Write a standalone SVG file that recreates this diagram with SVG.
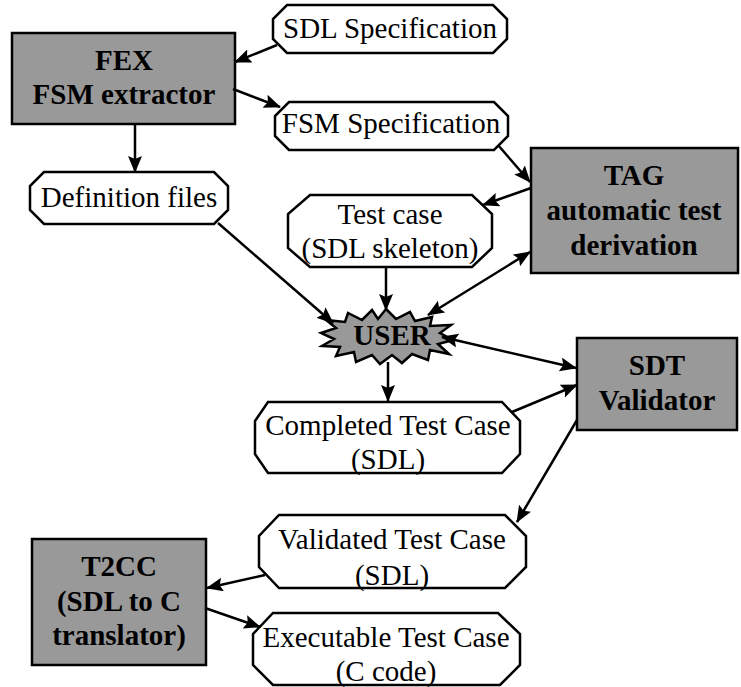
<svg xmlns="http://www.w3.org/2000/svg" width="741" height="687" viewBox="0 0 741 687">
<style>
.oct{fill:#fff;stroke:#000;stroke-width:2.5;stroke-linejoin:miter}
.box{fill:#999;stroke:#000;stroke-width:2.5}
.t{font-family:"Liberation Serif","Times New Roman",serif;font-size:29px;fill:#000;text-anchor:middle}
.b{font-weight:bold}
.c line{stroke:#000;stroke-width:2.5}
</style>
<defs>
<marker id="ah" markerUnits="userSpaceOnUse" markerWidth="18" markerHeight="16" refX="16" refY="7" orient="auto-start-reverse">
<path d="M0,0 L17,7 L0,14 L3,7 z" fill="#000"/>
</marker>
</defs>
<rect width="741" height="687" fill="#fff"/>

<g id="sdl-spec">
<polygon class="oct" points="287,5 493,5 507,19 507,39 493,53 287,53 273,39 273,19"/>
<text class="t" x="390" y="38">SDL Specification</text>
</g>
<g id="fex">
<rect class="box" x="12" y="33" width="223" height="91"/>
<text class="t b" x="124" y="70">FEX</text>
<text class="t b" x="124" y="104">FSM extractor</text>
</g>
<g id="fsm-spec">
<polygon class="oct" points="289,102 494,102 508,116 508,136 494,150 289,150 275,136 275,116"/>
<text class="t" x="391" y="133">FSM Specification</text>
</g>
<g id="def-files">
<polygon class="oct" points="44,172 214,172 228,186 228,210 214,224 44,224 30,210 30,186"/>
<text class="t" x="129" y="207">Definition files</text>
</g>
<g id="tag">
<rect class="box" x="531" y="148" width="207" height="125"/>
<text class="t b" x="634" y="185">TAG</text>
<text class="t b" x="634" y="220">automatic test</text>
<text class="t b" x="634" y="255">derivation</text>
</g>
<g id="test-case">
<polygon class="oct" points="310,195 472,195 492,214 492,248 472,267 310,267 288,248 288,214"/>
<text class="t" x="390" y="224">Test case</text>
<text class="t" x="390" y="258">(SDL skeleton)</text>
</g>
<g id="user">
<polygon fill="#999" stroke="#000" stroke-width="2.5" stroke-linejoin="miter" points="386,309 396,319 410,312 415,321 432,317 430,326 451,325 440,333 453,340 438,344 449,354 430,350 428,360 412,354 402,363 392,355 380,364 372,355 356,362 354,352 336,356 340,347 322,346 334,339 321,333 336,328 326,320 345,322 348,313 362,320 372,310 378,319"/>
<text class="t b" x="392" y="345">USER</text>
</g>
<g id="sdt">
<rect class="box" x="577" y="338" width="160" height="92"/>
<text class="t b" x="657" y="375">SDT</text>
<text class="t b" x="657" y="410">Validator</text>
</g>
<g id="completed">
<polygon class="oct" points="268,402 502,402 520,421 520,454 502,473 268,473 255,454 255,421"/>
<text class="t" x="388" y="435">Completed Test Case</text>
<text class="t" x="388" y="469">(SDL)</text>
</g>
<g id="validated">
<polygon class="oct" points="279,515 505,515 526,536 526,567 505,588 279,588 259,567 259,536"/>
<text class="t" x="392" y="549">Validated Test Case</text>
<text class="t" x="392" y="585">(SDL)</text>
</g>
<g id="t2cc">
<rect class="box" x="32" y="539" width="174" height="126"/>
<text class="t b" x="119" y="576">T2CC</text>
<text class="t b" x="119" y="611">(SDL to C</text>
<text class="t b" x="119" y="645">translator)</text>
</g>
<g id="executable">
<polygon class="oct" points="273,613 498,613 520,634 520,665 500,685 273,685 253,665 253,634"/>
<text class="t" x="386" y="647">Executable Test Case</text>
<text class="t" x="386" y="681">(C code)</text>
</g>

<g id="connectors" class="c">
<line x1="277" y1="45" x2="235" y2="62" marker-end="url(#ah)"/>
<line x1="233" y1="89" x2="280" y2="107" marker-end="url(#ah)"/>
<line x1="135" y1="124" x2="135" y2="172" marker-end="url(#ah)"/>
<line x1="498" y1="145" x2="530" y2="182" marker-end="url(#ah)"/>
<line x1="531" y1="188" x2="483" y2="205" marker-end="url(#ah)"/>
<line x1="218" y1="223" x2="333" y2="323" marker-end="url(#ah)"/>
<line x1="386" y1="267" x2="386" y2="310" marker-end="url(#ah)"/>
<line x1="428" y1="315" x2="530" y2="252" marker-start="url(#ah)" marker-end="url(#ah)"/>
<line x1="442" y1="337" x2="576" y2="368" marker-start="url(#ah)" marker-end="url(#ah)"/>
<line x1="388" y1="362" x2="388" y2="401" marker-end="url(#ah)"/>
<line x1="512" y1="412" x2="577" y2="385" marker-end="url(#ah)"/>
<line x1="577" y1="420" x2="517" y2="522" marker-end="url(#ah)"/>
<line x1="265" y1="575" x2="207" y2="588" marker-end="url(#ah)"/>
<line x1="205" y1="608" x2="260" y2="627" marker-end="url(#ah)"/>
</g>
</svg>
